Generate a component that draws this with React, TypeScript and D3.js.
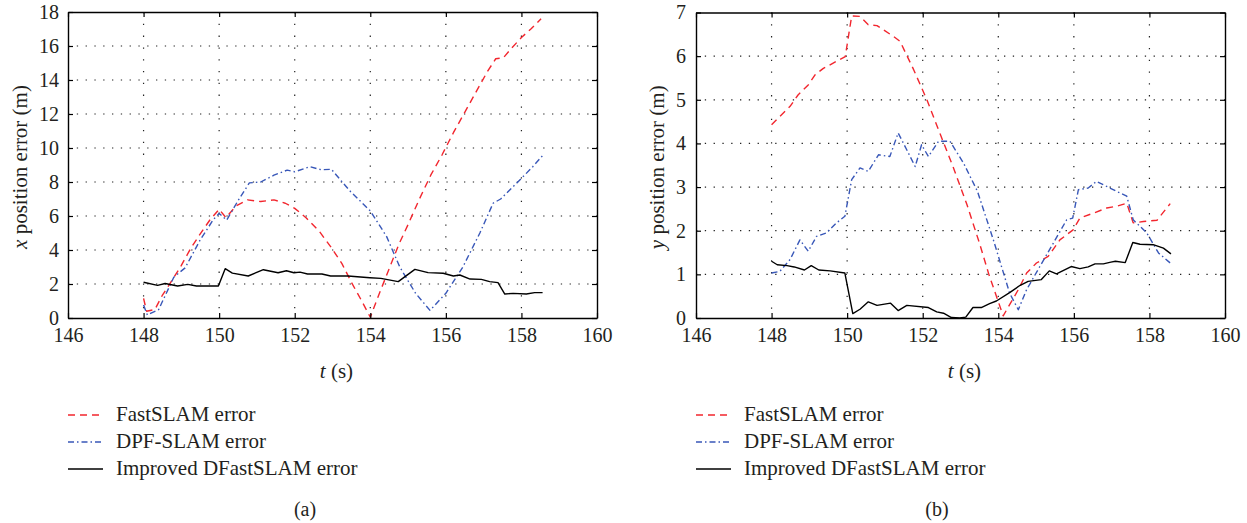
import React, { useRef, useEffect } from "react";
import * as d3 from "d3";

// x position error (m) vs t (s)
const xFastSLAM: [number, number][] = [
  [148.0, 1.15], [148.08, 0.4], [148.3, 0.5], [148.5, 1.35], [148.75, 2.2], [149.0, 3.1],
  [149.25, 4.1], [149.5, 4.95], [149.75, 5.75], [150.0, 6.4], [150.18, 5.9], [150.45, 6.6],
  [150.75, 6.95], [151.1, 6.85], [151.45, 6.95], [151.75, 6.75], [152.0, 6.45], [152.3, 5.9],
  [152.65, 5.1], [152.95, 4.2], [153.25, 3.2], [153.5, 2.1], [153.75, 1.1], [154.0, 0.05],
  [154.25, 1.5], [154.5, 2.9], [154.75, 4.3], [155.0, 5.5], [155.3, 7.0], [155.6, 8.4],
  [155.9, 9.6], [156.2, 10.9], [156.5, 12.1], [156.8, 13.3], [157.1, 14.5], [157.32, 15.25],
  [157.52, 15.3], [157.75, 15.9], [158.0, 16.5], [158.25, 17.0], [158.52, 17.6],
];
const xDPF: [number, number][] = [
  [148.0, 0.76], [148.1, 0.18], [148.4, 0.5], [148.8, 2.4], [149.1, 2.95], [149.5, 4.6],
  [149.85, 5.8], [150.0, 6.15], [150.2, 5.76], [150.5, 6.9], [150.8, 7.95], [151.1, 8.0],
  [151.45, 8.4], [151.8, 8.7], [152.0, 8.6], [152.4, 8.9], [152.7, 8.72], [152.97, 8.75],
  [153.45, 7.5], [154.0, 6.3], [154.43, 4.8], [154.78, 3.0], [155.2, 1.45], [155.58, 0.45],
  [156.0, 1.45], [156.45, 3.0], [156.9, 5.0], [157.25, 6.75], [157.45, 7.0], [157.95, 8.1],
  [158.3, 8.9], [158.58, 9.6],
];
const xImproved: [number, number][] = [
  [148.0, 2.1], [148.37, 1.92], [148.57, 2.03], [148.9, 1.88], [149.17, 1.98], [149.4, 1.88],
  [149.98, 1.88], [150.16, 2.9], [150.35, 2.64], [150.77, 2.47], [151.17, 2.84], [151.56, 2.66],
  [151.78, 2.78], [151.98, 2.66], [152.14, 2.7], [152.34, 2.59], [152.72, 2.59], [152.95, 2.47],
  [153.41, 2.47], [153.99, 2.37], [154.28, 2.33], [154.74, 2.14], [155.18, 2.86], [155.53, 2.67],
  [155.93, 2.63], [156.2, 2.47], [156.37, 2.53], [156.64, 2.29], [156.94, 2.27], [157.16, 2.14],
  [157.38, 2.08], [157.56, 1.41], [157.78, 1.45], [158.13, 1.41], [158.35, 1.49], [158.56, 1.49],
];

// y position error (m) vs t (s)
const yFastSLAM: [number, number][] = [
  [148.0, 4.43], [148.22, 4.62], [148.49, 4.85], [148.7, 5.11], [148.97, 5.34], [149.15, 5.57],
  [149.37, 5.72], [149.63, 5.84], [149.95, 5.99], [150.12, 6.92], [150.34, 6.91], [150.56, 6.72],
  [150.79, 6.7], [151.23, 6.45], [151.4, 6.34], [151.76, 5.69], [152.11, 5.0], [152.46, 4.22],
  [152.81, 3.45], [153.17, 2.6], [153.5, 1.72], [153.75, 1.0], [154.13, 0.05], [154.53, 0.65],
  [154.75, 1.03], [155.01, 1.26], [155.32, 1.41], [155.63, 1.79], [155.98, 2.02], [156.16, 2.29],
  [156.51, 2.4], [156.87, 2.52], [157.13, 2.56], [157.4, 2.63], [157.57, 2.18], [157.84, 2.21],
  [158.2, 2.24], [158.55, 2.62],
];
const yDPF: [number, number][] = [
  [148.0, 1.03], [148.22, 1.07], [148.49, 1.34], [148.75, 1.79], [148.97, 1.53], [149.19, 1.87],
  [149.45, 1.95], [149.72, 2.18], [149.94, 2.33], [150.12, 3.17], [150.34, 3.44], [150.56, 3.36],
  [150.83, 3.74], [151.13, 3.7], [151.35, 4.24], [151.58, 3.85], [151.8, 3.47], [151.97, 3.97],
  [152.15, 3.7], [152.42, 4.05], [152.72, 4.05], [153.08, 3.55], [153.45, 2.9], [153.87, 1.79],
  [154.3, 0.57], [154.53, 0.19], [154.75, 0.65], [155.1, 1.18], [155.46, 1.72], [155.81, 2.25],
  [155.97, 2.29], [156.12, 2.94], [156.38, 2.98], [156.6, 3.13], [157.04, 2.94], [157.4, 2.79],
  [157.57, 2.25], [157.93, 1.95], [158.24, 1.49], [158.55, 1.26],
];
const yImproved: [number, number][] = [
  [148.0, 1.3], [148.15, 1.22], [148.41, 1.2], [148.6, 1.17], [148.87, 1.1], [149.05, 1.2],
  [149.25, 1.1], [149.55, 1.08], [149.94, 1.03], [150.15, 0.1], [150.34, 0.2], [150.56, 0.37],
  [150.79, 0.29], [151.15, 0.34], [151.35, 0.17], [151.58, 0.29], [152.15, 0.24], [152.37, 0.14],
  [152.55, 0.11], [152.76, 0.01], [152.98, 0.0], [153.14, 0.02], [153.33, 0.24], [153.55, 0.24],
  [153.77, 0.33], [153.95, 0.39], [154.3, 0.58], [154.58, 0.75], [154.79, 0.84], [155.14, 0.88],
  [155.35, 1.08], [155.54, 1.01], [155.93, 1.18], [156.16, 1.13], [156.38, 1.17], [156.56, 1.24],
  [156.78, 1.24], [156.98, 1.28], [157.1, 1.3], [157.36, 1.27], [157.56, 1.73], [157.75, 1.69],
  [158.1, 1.68], [158.37, 1.6], [158.57, 1.47],
];

const tTicks = [146, 148, 150, 152, 154, 156, 158, 160];
const xErrTicks = [0, 2, 4, 6, 8, 10, 12, 14, 16, 18];
const yErrTicks = [0, 1, 2, 3, 4, 5, 6, 7];
const legendNames = ["FastSLAM error", "DPF-SLAM error", "Improved DFastSLAM error"];

const FONT = "Liberation Serif, DejaVu Serif, serif";
const RED = "#f2262e";
const BLUE = "#3857b8";
const TEXT = "#231f20";

const styles = [
  { color: RED, dash: "7,5" },
  { color: BLUE, dash: "6,3,1.5,3" },
  { color: "#000", dash: null as string | null },
];

function drawPanel(
  svg: d3.Selection<SVGSVGElement, unknown, null, undefined>,
  opts: {
    left: number;
    right: number;
    top: number;
    bottom: number;
    yTicks: number[];
    series: [number, number][][];
    axisVar: string;
    yLabelX: number;
    tickPadY: number;
    caption: string;
    captionX: number;
  }
) {
  const { left, right, top, bottom } = opts;
  const x = d3.scaleLinear().domain([146, 160]).range([left, right]);
  const yMax = opts.yTicks[opts.yTicks.length - 1];
  const y = d3.scaleLinear().domain([0, yMax]).range([bottom, top]);
  const g = svg.append("g");

  // dotted grid
  g.selectAll(".vgrid")
    .data(tTicks.slice(1, -1))
    .join("line")
    .attr("x1", (d) => x(d))
    .attr("x2", (d) => x(d))
    .attr("y1", top)
    .attr("y2", bottom)
    .attr("stroke", "#222")
    .attr("stroke-width", 1.2)
    .attr("stroke-dasharray", "1.3,10.5");
  g.selectAll(".hgrid")
    .data(opts.yTicks.slice(1, -1))
    .join("line")
    .attr("x1", left)
    .attr("x2", right)
    .attr("y1", (d) => y(d))
    .attr("y2", (d) => y(d))
    .attr("stroke", "#222")
    .attr("stroke-width", 1.2)
    .attr("stroke-dasharray", "1.3,7.5");

  // series
  const line = d3
    .line<[number, number]>()
    .x((d) => x(d[0]))
    .y((d) => y(d[1]));
  opts.series.forEach((s, i) => {
    const p = g
      .append("path")
      .datum(s)
      .attr("d", line)
      .attr("fill", "none")
      .attr("stroke", styles[i].color)
      .attr("stroke-width", 1.4)
      .attr("stroke-linejoin", "round");
    if (styles[i].dash) p.attr("stroke-dasharray", styles[i].dash);
  });

  // axes with inward ticks
  const fmt = d3.format("d");
  const bottomAxis = g
    .append("g")
    .attr("transform", `translate(0,${bottom})`)
    .call(d3.axisBottom(x).tickValues(tTicks).tickSizeInner(-5).tickSizeOuter(0).tickPadding(9.5).tickFormat(fmt));
  const topAxis = g
    .append("g")
    .attr("transform", `translate(0,${top})`)
    .call(d3.axisTop(x).tickValues(tTicks).tickSizeInner(-5).tickSizeOuter(0).tickFormat(() => ""));
  const leftAxis = g
    .append("g")
    .attr("transform", `translate(${left},0)`)
    .call(d3.axisLeft(y).tickValues(opts.yTicks).tickSizeInner(-5).tickSizeOuter(0).tickPadding(opts.tickPadY).tickFormat(fmt));
  const rightAxis = g
    .append("g")
    .attr("transform", `translate(${right},0)`)
    .call(d3.axisRight(y).tickValues(opts.yTicks).tickSizeInner(-5).tickSizeOuter(0).tickFormat(() => ""));
  [bottomAxis, topAxis, leftAxis, rightAxis].forEach((a) => {
    a.attr("font-family", FONT);
    a.selectAll(".domain").attr("stroke", "#000").attr("stroke-width", 1.4);
    a.selectAll(".tick line").attr("stroke", "#000").attr("stroke-width", 1.2);
    a.selectAll("text").attr("font-family", FONT).attr("font-size", 20).attr("fill", TEXT);
  });

  // axis titles
  const midX = (left + right) / 2;
  const tl = g
    .append("text")
    .attr("x", midX + 4)
    .attr("y", bottom + 60)
    .attr("text-anchor", "middle")
    .attr("font-family", FONT)
    .attr("font-size", 21)
    .attr("fill", TEXT);
  tl.append("tspan").attr("font-style", "italic").text("t");
  tl.append("tspan").text(" (s)");

  const yl = g
    .append("text")
    .attr("transform", `translate(${opts.yLabelX},${(top + bottom) / 2 + 2}) rotate(-90)`)
    .attr("text-anchor", "middle")
    .attr("font-family", FONT)
    .attr("font-size", 21)
    .attr("fill", TEXT);
  yl.append("tspan").attr("font-style", "italic").text(opts.axisVar);
  yl.append("tspan").text(" position error (m)");

  // legend
  const lg = g.append("g").attr("transform", `translate(${left},421)`);
  legendNames.forEach((name, i) => {
    const row = lg.append("g").attr("transform", `translate(0,${i * 27})`);
    const l = row
      .append("line")
      .attr("x1", 0)
      .attr("x2", 35)
      .attr("y1", -6)
      .attr("y2", -6)
      .attr("stroke", styles[i].color)
      .attr("stroke-width", 1.4);
    if (styles[i].dash) l.attr("stroke-dasharray", styles[i].dash);
    row
      .append("text")
      .attr("x", 48)
      .attr("y", 0)
      .attr("font-family", FONT)
      .attr("font-size", 21)
      .attr("fill", TEXT)
      .text(name);
  });

  g.append("text")
    .attr("x", opts.captionX)
    .attr("y", 516)
    .attr("text-anchor", "middle")
    .attr("font-family", FONT)
    .attr("font-size", 20)
    .attr("fill", TEXT)
    .text(opts.caption);
}

export default function App() {
  const svgRef = useRef<SVGSVGElement>(null);

  useEffect(() => {
    if (!svgRef.current) return;
    const svg = d3.select(svgRef.current);
    svg.selectAll("*").remove();

    drawPanel(svg, {
      left: 68,
      right: 597,
      top: 12,
      bottom: 318,
      yTicks: xErrTicks,
      series: [xFastSLAM, xDPF, xImproved],
      axisVar: "x",
      yLabelX: 27,
      tickPadY: 9,
      caption: "(a)",
      captionX: 305,
    });
    drawPanel(svg, {
      left: 696,
      right: 1225,
      top: 12.5,
      bottom: 318,
      yTicks: yErrTicks,
      series: [yFastSLAM, yDPF, yImproved],
      axisVar: "y",
      yLabelX: 664,
      tickPadY: 10,
      caption: "(b)",
      captionX: 937,
    });
  }, []);

  return (
    <svg
      ref={svgRef}
      width={1247}
      height={523}
      style={{ position: "absolute", left: 0, top: 0, background: "#fff" }}
    />
  );
}
